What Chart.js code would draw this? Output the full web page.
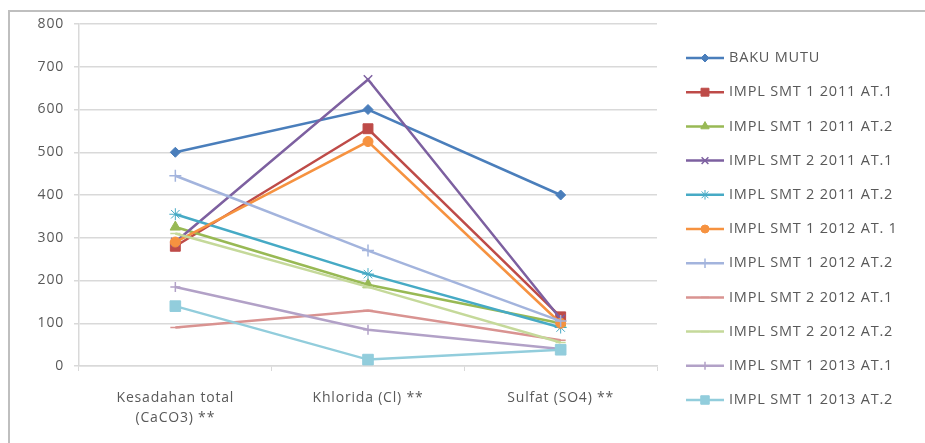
<!DOCTYPE html>
<html>
<head>
<meta charset="utf-8">
<script src="https://cdn.jsdelivr.net/npm/chart.js@4.4.0/dist/chart.umd.min.js"></script>
<style>
  html, body { margin: 0; padding: 0; background: #fff; }
  #wrap { width: 925px; height: 443px; }
</style>
</head>
<body>
<div id="wrap"><canvas id="myChart" width="925" height="443"></canvas></div>
<script>
// categories and series
const categories = [["Kesadahan total", "(CaCO3) **"], "Khlorida (Cl) **", "Sulfat (SO4) **"];
const yTicks = [0, 100, 200, 300, 400, 500, 600, 700, 800];

const seriesNames = [
  "BAKU MUTU",
  "IMPL SMT 1 2011 AT.1",
  "IMPL SMT 1 2011 AT.2",
  "IMPL SMT 2 2011 AT.1",
  "IMPL SMT 2 2011 AT.2",
  "IMPL SMT 1 2012 AT. 1",
  "IMPL SMT 1 2012 AT.2",
  "IMPL SMT 2 2012 AT.1",
  "IMPL SMT 2 2012 AT.2",
  "IMPL SMT 1 2013 AT.1",
  "IMPL SMT 1 2013 AT.2"
];

const bakuMutu = [500, 600, 400];
const smt1_2011_at1 = [280, 555, 115];
const smt1_2011_at2 = [325, 190, 100];
const smt2_2011_at1 = [290, 670, 110];
const smt2_2011_at2 = [355, 215, 90];
const smt1_2012_at1 = [290, 525, 100];
const smt1_2012_at2 = [445, 270, 105];
const smt2_2012_at1 = [90, 130, 60];
const smt2_2012_at2 = [310, 185, 55];
const smt1_2013_at1 = [185, 85, 40];
const smt1_2013_at2 = [140, 15, 38];

const seriesValues = [bakuMutu, smt1_2011_at1, smt1_2011_at2, smt2_2011_at1, smt2_2011_at2,
  smt1_2012_at1, smt1_2012_at2, smt2_2012_at1, smt2_2012_at2, smt1_2013_at1, smt1_2013_at2];

// look of each series (colour, marker)
const colors = ["#4A7EBB", "#BE4B48", "#98B954", "#7D60A0", "#46AAC5", "#F69240",
  "#A3B4DD", "#D99391", "#C5D99A", "#B2A1C7", "#92CDDC"];
const markers = ["rectRot", "rect", "triangle", "crossRot", "star", "circle",
  "cross", "line", "line", "cross", "rect"];
const markerSizes = [5, 7, 6, 6, 6, 5, 6, 5, 5, 5, 7.5];

const FONT = "'Open Sans', 'Noto Sans', sans-serif";
const TEXT = "#595959";
const SPACING = "0.8px";

const datasets = seriesNames.map(function (name, i) {
  return {
    label: name,
    data: seriesValues[i],
    borderColor: colors[i],
    backgroundColor: colors[i],
    borderWidth: 2.5,
    pointStyle: markers[i],
    pointRadius: markerSizes[i],
    pointHoverRadius: markerSizes[i],
    pointBorderWidth: markers[i] === "cross" || markers[i] === "crossRot" || markers[i] === "line" ? 1.5 : 1,
    tension: 0,
    order: seriesNames.length - i  // later series on top, like excel
  };
});

// grey frame (only top and left show, the picture is cropped) + wider letter spacing
const framePlugin = {
  id: "frame",
  beforeLayout: function (chart) {
    chart.ctx.letterSpacing = SPACING;
  },
  beforeDraw: function (chart) {
    const ctx = chart.ctx;
    ctx.letterSpacing = SPACING;
    ctx.save();
    ctx.fillStyle = "#fff";
    ctx.fillRect(0, 0, chart.width, chart.height);
    ctx.strokeStyle = "#BFBFBF";
    ctx.lineWidth = 2;
    ctx.beginPath();
    ctx.moveTo(9, chart.height);
    ctx.lineTo(9, 11);
    ctx.lineTo(chart.width, 11);
    ctx.stroke();
    ctx.restore();
  }
};

// legend on the right: line with the marker in the middle, then the name
const sideLegend = {
  id: "sideLegend",
  afterDraw: function (chart) {
    const ctx = chart.ctx;
    const x0 = chart.chartArea.right + 29;
    const lineLen = 38;
    const top = 58;
    const step = 34.2;
    ctx.save();
    chart.data.datasets.forEach(function (ds, i) {
      const y = top + i * step;
      ctx.strokeStyle = ds.borderColor;
      ctx.lineWidth = 2.5;
      ctx.beginPath();
      ctx.moveTo(x0, y);
      ctx.lineTo(x0 + lineLen, y);
      ctx.stroke();
      ctx.fillStyle = ds.backgroundColor;
      ctx.strokeStyle = ds.borderColor;
      ctx.lineWidth = ds.pointBorderWidth;
      Chart.helpers.drawPoint(ctx, {
        pointStyle: ds.pointStyle,
        radius: ds.pointRadius * 0.8,
        rotation: 0,
        borderWidth: ds.pointBorderWidth
      }, x0 + lineLen / 2, y);
      ctx.fillStyle = TEXT;
      ctx.font = "14.5px " + FONT;
      ctx.letterSpacing = "0.8px";
      ctx.textBaseline = "middle";
      ctx.textAlign = "left";
      ctx.fillText(ds.label, x0 + lineLen + 5, y);
    });
    ctx.restore();
  }
};

const ctx = document.getElementById("myChart").getContext("2d");
const chart = new Chart(ctx, {
  type: "line",
  data: { labels: categories, datasets: datasets },
  options: {
    responsive: false,
    animation: false,
    layout: { padding: { left: 0, right: 268, top: 24, bottom: 0 } },
    plugins: {
      legend: { display: false },
      tooltip: { enabled: false }
    },
    scales: {
      x: {
        offset: true,
        grid: {
          display: true,
          offset: true,
          drawOnChartArea: false,
          color: "#D9D9D9",
          tickLength: 5
        },
        border: { color: "#D9D9D9", width: 1.5 },
        ticks: {
          color: TEXT,
          font: { family: FONT, size: 14, lineHeight: 1.45 },
          padding: 17,
          maxRotation: 0
        },
        afterFit: function (scale) { scale.height = 77; }
      },
      y: {
        min: 0,
        max: 800,
        afterBuildTicks: function (scale) {
          scale.ticks = yTicks.map(function (v) { return { value: v }; });
        },
        grid: { color: "#D9D9D9", lineWidth: 1.5, tickLength: 5 },
        border: { color: "#D9D9D9", width: 1.5 },
        ticks: {
          color: TEXT,
          font: { family: FONT, size: 14 },
          padding: 10
        },
        afterFit: function (scale) { scale.width = 79; }
      }
    }
  },
  plugins: [framePlugin, sideLegend]
});
</script>
</body>
</html>
